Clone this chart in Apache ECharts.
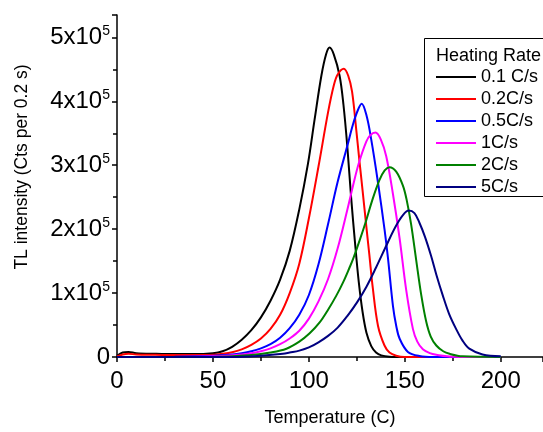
<!DOCTYPE html>
<html>
<head>
<meta charset="utf-8">
<script src="https://cdn.jsdelivr.net/npm/echarts@6/dist/echarts.min.js"></script>
<style>
    html, body { margin: 0; padding: 0; background: #ffffff; }
    #chart { width: 543px; height: 432px; }
</style>
</head>
<body>
<div id="chart"></div>
<script>
// heating rate names (legend)
var rateNames = ['0.1 C/s', '0.2C/s', '0.5C/s', '1C/s', '2C/s', '5C/s'];
var rateColors = ['#000000', '#ff0000', '#0000ff', '#ff00ff', '#008000', '#000080'];

// glow curves, temperature (C) and TL counts
var temp01 = [0, 3, 6, 10, 20, 30, 40, 50, 55, 60, 65, 70, 75, 80, 85, 90, 95, 99.5, 103, 106.5, 109, 110.8, 113, 116, 118, 120, 122, 124, 126, 128, 130, 132.5, 135, 137.7, 142, 150, 200];
var tl01 = [2000, 7000, 8000, 6000, 5000, 4500, 4500, 6000, 9000, 16000, 27000, 42000, 62000, 88000, 121000, 166000, 231000, 302000, 372000, 440000, 474000, 484000, 473000, 440000, 395000, 330000, 250000, 180000, 117000, 70000, 38000, 17000, 7000, 2500, 500, 0, 0];

var temp02 = [0, 3, 6, 10, 20, 30, 40, 50, 55, 60, 65, 70, 75, 80, 85, 90, 95, 100, 105, 110, 113, 115, 118.2, 120.5, 122.5, 124.7, 126.4, 128, 129.9, 131.5, 133.3, 136, 139.4, 142, 145.5, 150, 200];
var tl02 = [1000, 4000, 5000, 4000, 3500, 3000, 3000, 3500, 5000, 7500, 12000, 19000, 29000, 44000, 66000, 100000, 146000, 217000, 298000, 383000, 425000, 442000, 451000, 440000, 415000, 355000, 305000, 260000, 205000, 160000, 108000, 49000, 18000, 7000, 2000, 0, 0];

var temp05 = [0, 10, 30, 50, 60, 65, 70, 75, 80, 85, 90, 95, 100, 105, 110, 115, 120, 123, 125.5, 127.5, 130, 132.5, 136, 139.4, 141.2, 143.8, 145.5, 147.3, 151.6, 157.6, 165, 200];
var tl05 = [0, 0, 500, 2000, 4000, 6000, 9000, 13500, 20000, 30000, 45000, 66000, 97000, 145000, 208000, 274000, 330000, 364000, 386000, 396000, 378000, 340000, 273000, 200000, 155000, 80000, 49000, 28500, 8000, 1500, 0, 0];

var temp1 = [0, 30, 50, 65, 70, 75, 80, 85, 90, 95, 100, 105, 110, 115, 120, 123, 126, 129.9, 132, 134.7, 137.5, 140.3, 143.8, 147.3, 150.7, 154.2, 156.5, 159.4, 163, 166.4, 175, 200];
var tl1 = [0, 0, 1000, 4000, 6000, 9000, 13500, 20000, 29000, 41000, 60000, 87000, 122000, 170000, 230000, 268000, 303000, 337000, 347000, 351000, 340000, 314000, 255000, 185000, 105000, 44000, 24000, 12000, 6000, 3500, 500, 0];

var temp2 = [0, 50, 70, 80, 88.3, 95, 100.4, 105.6, 110, 114.3, 118, 121.2, 123, 126.4, 129.9, 133, 136.8, 139.5, 142, 145.5, 149, 151, 153.3, 155.9, 158.5, 161.1, 163.5, 166.4, 170, 173.3, 180, 200];
var tl2 = [0, 0, 3000, 7000, 13000, 24000, 37000, 54000, 74000, 96000, 118000, 140000, 153000, 182000, 214000, 245000, 277000, 292000, 297000, 290000, 268000, 245000, 207000, 152000, 98000, 56000, 32000, 18000, 9000, 5000, 1000, 0];

var temp5 = [0, 60, 75, 86.5, 90, 95, 100, 105, 110, 115, 120, 125, 130, 135, 140, 145, 149, 152, 155, 157.6, 160.5, 163.7, 166.5, 169.8, 173, 176.7, 180, 183.6, 190.5, 200];
var tl5 = [0, 0, 2000, 5000, 7000, 10000, 15000, 23000, 33000, 46000, 64000, 85000, 110000, 140000, 172000, 203000, 222000, 229000, 225000, 210000, 188000, 158000, 128000, 96000, 68000, 44000, 26000, 13000, 4000, 1000];

var allTemps = [temp01, temp02, temp05, temp1, temp2, temp5];
var allTl = [tl01, tl02, tl05, tl1, tl2, tl5];

var fontName = 'Liberation Sans, Arial, sans-serif';

function pairs(xs, ys) {
    var out = [];
    for (var i = 0; i < xs.length; i++) {
        out.push([xs[i], ys[i]]);
    }
    return out;
}

var seriesList = [];
for (var k = 0; k < rateNames.length; k++) {
    seriesList.push({
        name: rateNames[k],
        type: 'line',
        smooth: 0.35,
        symbol: 'none',
        animation: false,
        data: pairs(allTemps[k], allTl[k]),
        lineStyle: { color: rateColors[k], width: 2 },
        itemStyle: { color: rateColors[k] }
    });
}

var dom = document.getElementById('chart');
var chart = echarts.init(dom, null, { renderer: 'canvas' });

var option = {
    backgroundColor: '#ffffff',
    textStyle: { fontFamily: fontName },
    grid: {
        left: 117,
        top: 15,
        right: 0,
        bottom: 74
    },
    legend: {
        data: rateNames,
        orient: 'vertical',
        left: 424,
        top: 38,
        padding: [30, 10, 1, 12],
        icon: 'rect',
        itemWidth: 40,
        itemHeight: 2,
        itemGap: 4,
        textStyle: { fontSize: 18, color: '#000000', fontFamily: fontName, lineHeight: 18 }
    },
    // legend frame runs off the right edge, like the original
    graphic: [
        {
            type: 'rect',
            z: 100,
            shape: { x: 424.5, y: 38.5, width: 160, height: 158 },
            style: { fill: 'none', stroke: '#000000', lineWidth: 1 }
        },
        {
            type: 'text',
            left: 436,
            top: 47,
            style: { text: 'Heating Rate', font: '18px ' + fontName, fill: '#000000' }
        }
    ],
    xAxis: {
        type: 'value',
        min: 0,
        max: 222,
        interval: 50,
        name: 'Temperature (C)',
        nameLocation: 'middle',
        nameGap: 52,
        nameTextStyle: { fontSize: 18, color: '#000000' },
        splitLine: { show: false },
        axisLine: { onZero: false, lineStyle: { color: '#000000', width: 1.5 } },
        axisTick: { inside: false, length: 5, lineStyle: { color: '#000000', width: 1.5 } },
        minorTick: { show: true, splitNumber: 2, length: 4, lineStyle: { color: '#000000', width: 1.5 } },
        axisLabel: { fontSize: 24, color: '#000000', margin: 12, showMaxLabel: false }
    },
    yAxis: {
        type: 'value',
        min: 0,
        max: 535000,
        interval: 100000,
        name: 'TL intensity (Cts per 0.2 s)',
        nameLocation: 'middle',
        nameGap: 86,
        nameTextStyle: { fontSize: 17.5, color: '#000000', padding: [0, 0, 0, 38] },
        splitLine: { show: false },
        axisLine: { show: true, lineStyle: { color: '#000000', width: 1.5 } },
        axisTick: { show: true, inside: false, length: 5, lineStyle: { color: '#000000', width: 1.5 } },
        minorTick: { show: true, splitNumber: 2, length: 4, lineStyle: { color: '#000000', width: 1.5 } },
        axisLabel: {
            margin: 7,
            showMaxLabel: false,
            formatter: function (v) {
                if (v === 0) return '{n|0}';
                return '{n|' + Math.round(v / 100000) + 'x10}{s|5}';
            },
            rich: {
                n: { fontSize: 24, color: '#000000', fontFamily: fontName, lineHeight: 26 },
                s: { fontSize: 14, color: '#000000', fontFamily: fontName, lineHeight: 14, verticalAlign: 'top' }
            }
        }
    },
    series: seriesList
};

chart.setOption(option);
</script>
</body>
</html>
